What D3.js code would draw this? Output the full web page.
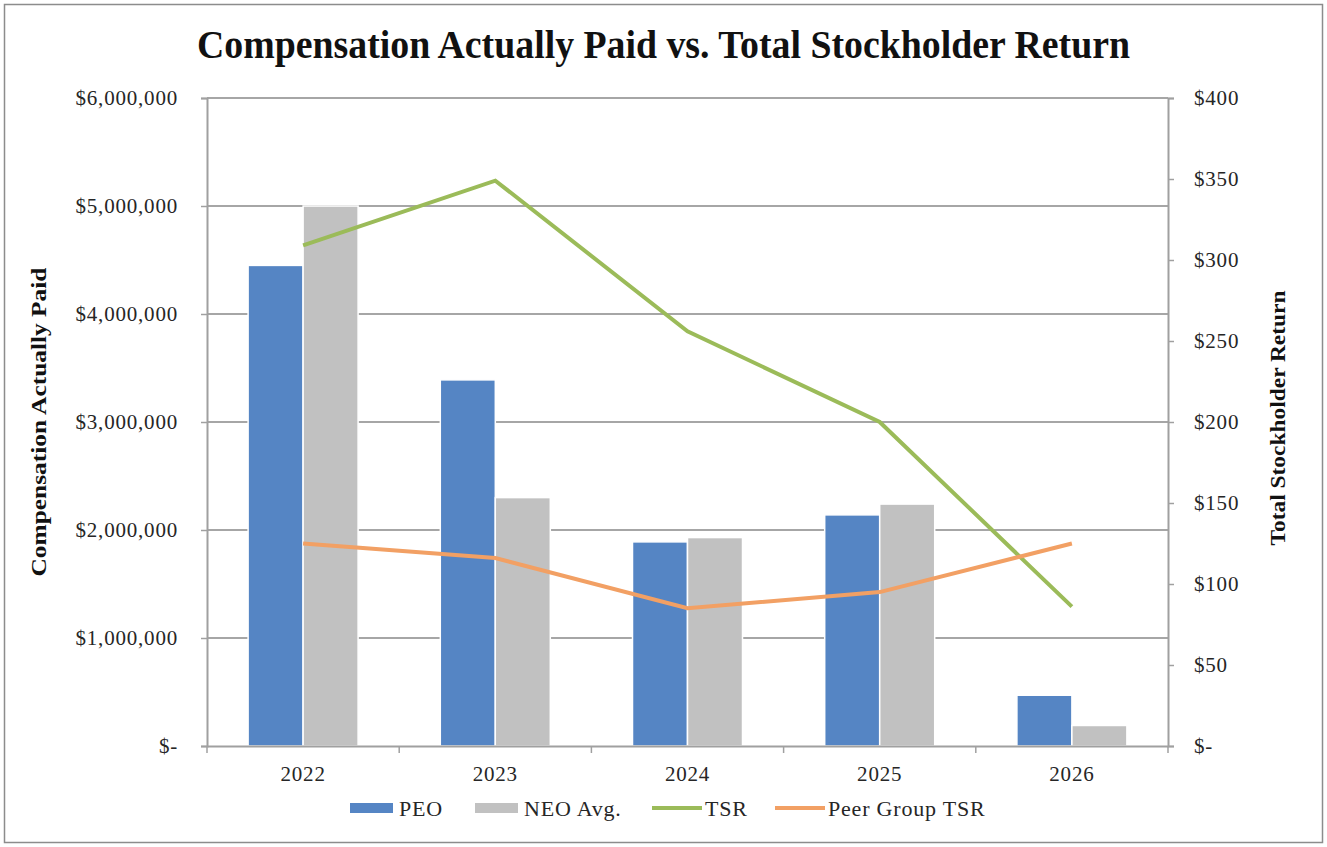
<!DOCTYPE html>
<html>
<head>
<meta charset="utf-8">
<script src="https://cdn.jsdelivr.net/npm/d3@7"></script>
<style>
  body { margin: 0; background: #fff; }
  text { font-family: "Liberation Serif", "Times New Roman", serif; fill: #262626; }
</style>
</head>
<body>
<div id="chart"></div>
<script>
// chart data
const years = ["2022", "2023", "2024", "2025", "2026"];
const peo = [4450000, 3390000, 1890000, 2140000, 470000];
const neoAvg = [5000000, 2300000, 1930000, 2240000, 190000];
const tsr = [309, 349, 256, 200, 86];
const peerTsr = [125, 116, 85, 95, 125];
const leftTicks = [0, 1000000, 2000000, 3000000, 4000000, 5000000, 6000000];
const rightTicks = [0, 50, 100, 150, 200, 250, 300, 350, 400];

const W = 1327, H = 847;
const margin = {top: 98, right: 159, bottom: 101, left: 207};
const width = W - margin.left - margin.right;
const height = H - margin.top - margin.bottom;

const svg = d3.select("#chart").append("svg")
    .attr("width", W)
    .attr("height", H);

// outer frame
svg.append("rect")
    .attr("x", 4.5).attr("y", 4.5)
    .attr("width", W - 9).attr("height", H - 9)
    .attr("fill", "none").attr("stroke", "#8c8c8c").attr("stroke-width", 1.5);

svg.append("text")
    .attr("x", W / 2).attr("y", 58)
    .attr("text-anchor", "middle")
    .attr("font-size", 40).attr("font-weight", "bold")
    .attr("textLength", 933).attr("lengthAdjust", "spacingAndGlyphs")
    .style("fill", "#111")
    .text("Compensation Actually Paid vs. Total Stockholder Return");

const g = svg.append("g")
    .attr("transform", "translate(" + margin.left + "," + margin.top + ")");

// scales
const x = d3.scaleBand().domain(years).range([0, width]);
const x1 = d3.scaleBand().domain(["peo", "neo"]).range([0, 110]);
const yLeft = d3.scaleLinear().domain([0, 6000000]).range([height, 0]);
const yRight = d3.scaleLinear().domain([0, 400]).range([height, 0]);

// gridlines
g.append("g")
    .selectAll("line")
    .data(leftTicks.slice(1))
    .join("line")
    .attr("x1", 0).attr("x2", width)
    .attr("y1", d => yLeft(d)).attr("y2", d => yLeft(d))
    .attr("stroke", "#a6a6a6").attr("stroke-width", 2);

// bars
const groups = g.append("g").selectAll("g")
    .data(years)
    .join("g")
    .attr("transform", d => "translate(" + (x(d) + x.bandwidth() / 2 - 55) + ",0)");

groups.append("rect")
    .attr("x", x1("peo"))
    .attr("width", x1.bandwidth())
    .attr("y", (d, i) => yLeft(peo[i]))
    .attr("height", (d, i) => height - yLeft(peo[i]))
    .attr("fill", "#5585c4").attr("stroke", "#fff").attr("stroke-width", 1.5);

groups.append("rect")
    .attr("x", x1("neo"))
    .attr("width", x1.bandwidth())
    .attr("y", (d, i) => yLeft(neoAvg[i]))
    .attr("height", (d, i) => height - yLeft(neoAvg[i]))
    .attr("fill", "#c1c1c1").attr("stroke", "#fff").attr("stroke-width", 1.5);

// lines
const line = d3.line()
    .x((d, i) => x(years[i]) + x.bandwidth() / 2)
    .y(d => yRight(d));

g.append("path").datum(tsr)
    .attr("d", line)
    .attr("fill", "none").attr("stroke", "#9bbb59").attr("stroke-width", 4);

g.append("path").datum(peerTsr)
    .attr("d", line)
    .attr("fill", "none").attr("stroke", "#f2a064").attr("stroke-width", 4);

// axes
const axisColor = "#a0a0a0";

const leftAxis = g.append("g")
    .call(d3.axisLeft(yLeft).tickValues(leftTicks).tickSize(6).tickPadding(23)
        .tickFormat(d => d === 0 ? "$-" : d3.format("$,")(d)));

const rightAxis = g.append("g")
    .attr("transform", "translate(" + width + ",0)")
    .call(d3.axisRight(yRight).tickValues(rightTicks).tickSize(6).tickPadding(20)
        .tickFormat(d => d === 0 ? "$-" : "$" + d));

const bottomAxis = g.append("g")
    .attr("transform", "translate(0," + height + ")")
    .call(d3.axisBottom(x).tickSize(0).tickPadding(20));

// category boundary ticks
g.append("g")
    .selectAll("line")
    .data(years.concat(["end"]))
    .join("line")
    .attr("x1", (d, i) => i * x.bandwidth()).attr("x2", (d, i) => i * x.bandwidth())
    .attr("y1", height).attr("y2", height + 7)
    .attr("stroke", axisColor).attr("stroke-width", 1.5);

[leftAxis, rightAxis, bottomAxis].forEach(a => {
    a.select(".domain").attr("stroke", axisColor).attr("stroke-width", 2);
    a.selectAll(".tick line").attr("stroke", axisColor).attr("stroke-width", 1.5);
    a.selectAll("text")
        .attr("font-family", "Liberation Serif, serif")
        .attr("font-size", 21)
        .style("letter-spacing", "0.8px")
        .attr("fill", "#262626");
});

// axis titles
svg.append("text")
    .attr("transform", "translate(46," + (margin.top + 324) + ") rotate(-90)")
    .attr("text-anchor", "middle")
    .attr("font-size", 22).attr("font-weight", "bold")
    .attr("textLength", 309).attr("lengthAdjust", "spacingAndGlyphs")
    .style("fill", "#111")
    .text("Compensation  Actually Paid");

svg.append("text")
    .attr("transform", "translate(1285," + (margin.top + 320) + ") rotate(-90)")
    .attr("text-anchor", "middle")
    .attr("font-size", 22).attr("font-weight", "bold")
    .attr("textLength", 255).attr("lengthAdjust", "spacingAndGlyphs")
    .style("fill", "#111")
    .text("Total Stockholder  Return");

// legend
const legendItems = [
    {name: "PEO", type: "rect", color: "#5585c4", x: 350},
    {name: "NEO Avg.", type: "rect", color: "#c1c1c1", x: 475},
    {name: "TSR", type: "line", color: "#9bbb59", x: 652},
    {name: "Peer Group TSR", type: "line", color: "#f2a064", x: 775}
];
const legendY = 808;
const legend = svg.append("g").selectAll("g")
    .data(legendItems)
    .join("g")
    .attr("transform", d => "translate(" + d.x + "," + legendY + ")");

legend.filter(d => d.type === "rect").append("rect")
    .attr("x", 0).attr("y", -5).attr("width", 43).attr("height", 10)
    .attr("fill", d => d.color);
legend.filter(d => d.type === "line").append("line")
    .attr("x1", 0).attr("x2", 50).attr("y1", 0).attr("y2", 0)
    .attr("stroke", d => d.color).attr("stroke-width", 4);

legend.append("text")
    .attr("x", d => d.type === "rect" ? 49 : 53).attr("y", 8)
    .attr("font-size", 22)
    .style("letter-spacing", "0.8px")
    .text(d => d.name);
</script>
</body>
</html>
